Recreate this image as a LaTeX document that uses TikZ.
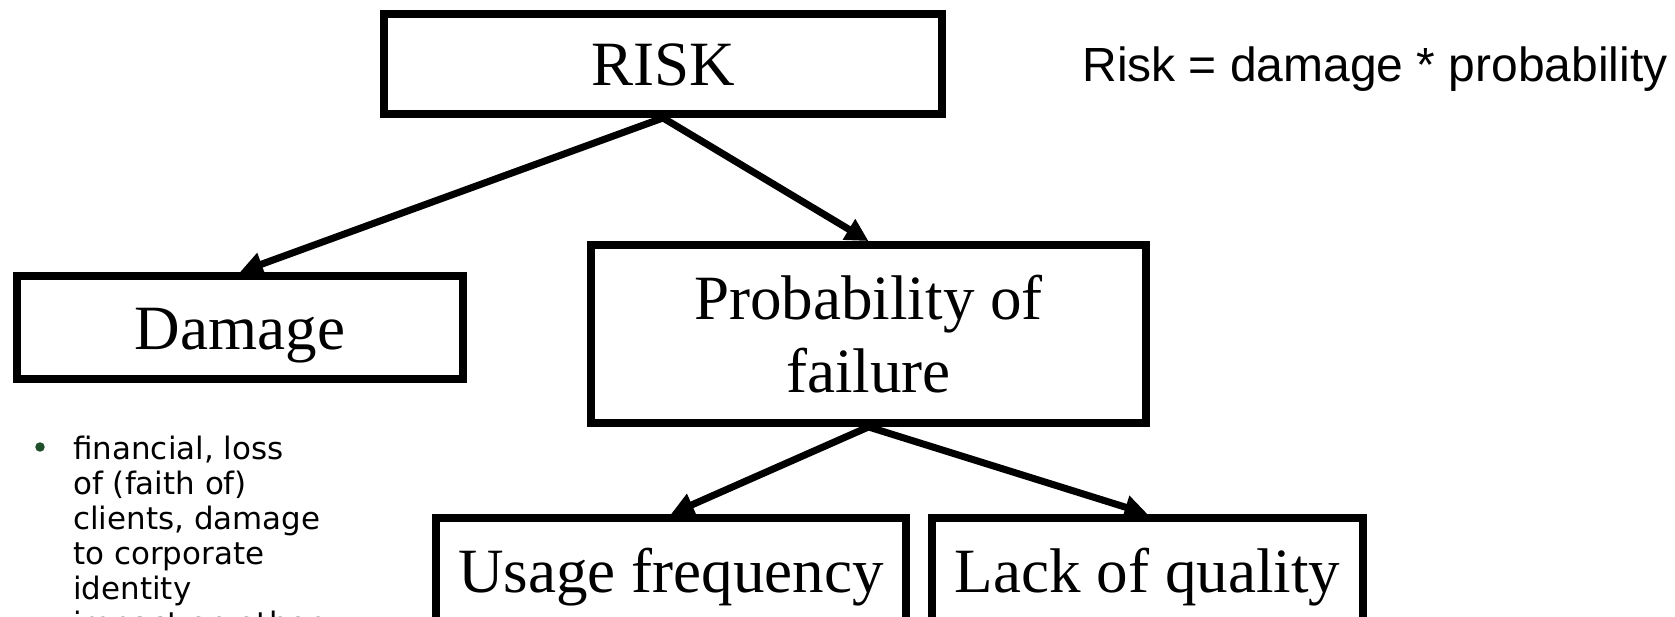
\documentclass[tikz,border=0pt]{standalone}
\usepackage{fontspec}
\setmainfont{Liberation Serif}
\newfontfamily\formulafont{Liberation Sans}
\newfontfamily\notefont{DejaVu Sans}
\usetikzlibrary{arrows.meta}
\definecolor{bulletgreen}{HTML}{1F4F2A}

\begin{document}
\begin{tikzpicture}[
    x=0.02cm, y=0.02cm,
    box/.style={rectangle, draw, line width=4.5pt, inner sep=0pt, align=center, font=\fontsize{35.9}{41.6}\selectfont},
    onebox/.style={box, text height=28pt, text depth=3pt},
    arrow/.style={-{Triangle[length=13pt, width=13pt]}, line width=4pt}
]
\useasboundingbox (0,0) rectangle (1675,-617);
\clip (0,0) rectangle (1675,-617);

% Boxes
\node[onebox, minimum width=11.16cm, minimum height=2cm] (risk) at (663,-64) {RISK};
\node[onebox, minimum width=8.92cm, minimum height=2.06cm] (damage) at (240,-327.5) {Damage};
\node[box, minimum width=11.1cm, minimum height=3.56cm] (prob) at (868.5,-334) {Probability of\\failure};
\node[onebox, minimum width=9.4cm, minimum height=2.12cm] (usage) at (671,-571) {Usage frequency};
\node[onebox, minimum width=8.62cm, minimum height=2.12cm] (lack) at (1147.5,-571) {Lack of quality};

% Formula and notes
\node[anchor=base west, inner sep=0pt, font=\formulafont\fontsize{27.3}{31}\selectfont] (formula) at (1082,-82) {Risk = damage * probability};
\node[circle, fill=bulletgreen, inner sep=0pt, minimum size=0.19cm] (bullet) at (40,-447) {};
\node[anchor=north west, inner sep=0pt, align=left, font=\notefont\fontsize{17.6}{19.9}\selectfont] (note) at (73,-436)
    {financial, loss\\of (faith of)\\clients, damage\\to corporate\\identity\\impact on other};

% Arrows
\draw[arrow] (risk.south) -- (damage.north);
\draw[arrow] (risk.south) -- (prob.north);
\draw[arrow] (prob.south) -- (usage.north);
\draw[arrow] (prob.south) -- (lack.north);
\end{tikzpicture}
\end{document}
